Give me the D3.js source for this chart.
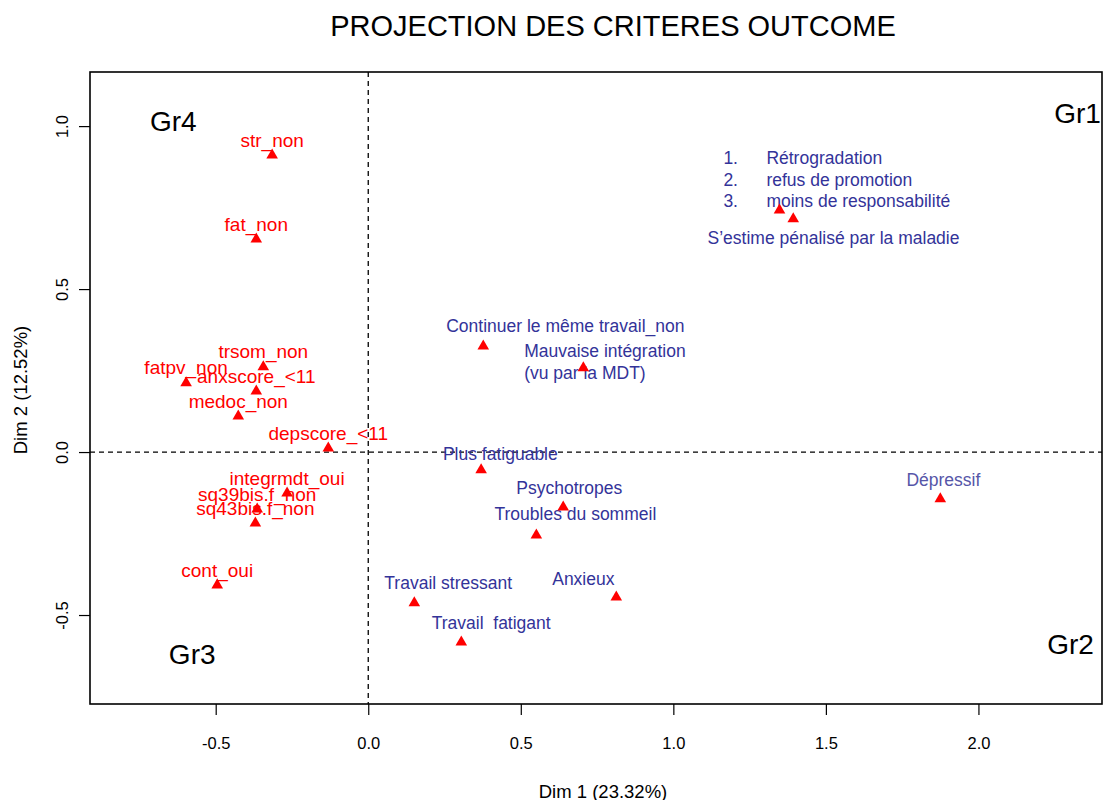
<!DOCTYPE html>
<html><head><meta charset="utf-8">
<script src="https://cdn.jsdelivr.net/npm/d3@7"></script>
<style>body{margin:0;background:#fff}text{font-family:"Liberation Sans",Arial,Helvetica,sans-serif;white-space:pre}</style>
</head><body><svg id="c" width="1104" height="800"></svg>
<script>
const title = "PROJECTION DES CRITERES OUTCOME";
const xTitle = "Dim 1 (23.32%)";
const yTitle = "Dim 2 (12.52%)";
const xTicks = [-0.5, 0.0, 0.5, 1.0, 1.5, 2.0];
const yTicks = [-0.5, 0.0, 0.5, 1.0];

// red (modalities "non"/"oui")
const redLabels = ["str_non","fat_non","trsom_non","fatpv_non","anxscore_<11","medoc_non","depscore_<11","integrmdt_oui","sq39bis.f_non","sq43bis.f_non","cont_oui"];
const redX = [-0.315,-0.367,-0.344,-0.597,-0.367,-0.426,-0.131,-0.266,-0.364,-0.370,-0.495];
const redY = [0.914,0.656,0.264,0.215,0.190,0.113,0.015,-0.123,-0.172,-0.215,-0.405];

// blue points
const blueX = [1.348,1.393,0.377,0.705,0.370,0.639,0.551,0.813,0.151,0.305,1.875];
const blueY = [0.745,0.718,0.328,0.261,-0.052,-0.166,-0.252,-0.442,-0.460,-0.580,-0.141];

// blue annotation texts with their anchors (data coordinates)
const blueTexts = ["Continuer le même travail_non","Plus fatiguable","Psychotropes","Troubles du sommeil","Anxieux","Travail stressant","Travail  fatigant","S’estime pénalisé par la maladie"];
const blueTextX = [0.646,0.433,0.659,0.679,0.705,0.262,0.403,1.525];
const blueTextY = [0.387,-0.006,-0.110,-0.190,-0.390,-0.402,-0.525,0.656];
const mauvaiseLines = ["Mauvaise intégration","(vu par la MDT)"];
const mauvaiseX = 0.511;
const mauvaiseY = [0.310,0.242];
const listNums = ["1.","2.","3."];
const listItems = ["Rétrogradation","refus de promotion","moins de responsabilité"];
const listNumX = 1.164, listItemX = 1.305;
const listY = [0.902,0.834,0.770];
const depText = "Dépressif", depTextX = 1.885, depTextY = -0.086;

const groups = ["Gr1","Gr2","Gr3","Gr4"];
const groupX = [2.325,2.302,-0.577,-0.639];
const groupY = [1.040,-0.589,-0.620,1.015];

const svg = d3.select("#c");
const L=90, R=1102, T=72, B=704;
const x = d3.scaleLinear().domain([-0.912, 2.405]).range([L, R]);
const y = d3.scaleLinear().domain([-0.773, 1.166]).range([B, T]);
const RED="#ff0000", BLUE="#333399";
const fmt = d => d3.format(".1f")(d).replace("−","-");

svg.append("text").attr("x",613).attr("y",26).attr("text-anchor","middle").attr("dominant-baseline","central")
  .attr("font-size",29).text(title);

// dashed axes
svg.append("line").attr("x1",x(0)).attr("x2",x(0)).attr("y1",T).attr("y2",B).attr("stroke","#000").attr("stroke-width",1.3).attr("stroke-dasharray","5,4");
svg.append("line").attr("x1",L).attr("x2",R).attr("y1",y(0)).attr("y2",y(0)).attr("stroke","#000").attr("stroke-width",1.3).attr("stroke-dasharray","5,4");

// axes
const gx = svg.append("g").attr("transform",`translate(0,${B})`)
  .call(d3.axisBottom(x).tickValues(xTicks).tickFormat(fmt).tickSize(11).tickPadding(22));
const gy = svg.append("g").attr("transform",`translate(${L},0)`)
  .call(d3.axisLeft(y).tickValues(yTicks).tickFormat(fmt).tickSize(11).tickPadding(0));
[gx,gy].forEach(g=>{g.select(".domain").remove();g.selectAll("line").attr("stroke","#000").attr("stroke-width",1.2);
  g.selectAll("text").attr("font-size",16.5).attr("fill","#000").attr("font-family","Liberation Sans, Arial, sans-serif");});
gy.selectAll("text").attr("x",null).attr("dy",null).attr("text-anchor","middle").attr("dominant-baseline","central")
  .attr("transform",d=>`translate(-28,${0}) rotate(-90)`);

svg.append("rect").attr("x",L).attr("y",T).attr("width",R-L).attr("height",B-T).attr("fill","none").attr("stroke","#000").attr("stroke-width",1.6);

svg.append("text").attr("x",603).attr("y",791).attr("text-anchor","middle").attr("dominant-baseline","central").attr("font-size",18.5).text(xTitle);
svg.append("text").attr("transform","translate(20,390) rotate(-90)").attr("text-anchor","middle").attr("dominant-baseline","central").attr("font-size",18.5).text(yTitle);

const tri = d3.symbol().type(d3.symbolTriangle).size(58);
// red points
redLabels.forEach((lab,i)=>{
  svg.append("path").attr("d",tri).attr("transform",`translate(${x(redX[i])},${y(redY[i])+1})`).attr("fill",RED);
});
redLabels.forEach((lab,i)=>{
  svg.append("text").attr("x",x(redX[i])).attr("y",y(redY[i])-14).attr("text-anchor","middle").attr("dominant-baseline","central")
    .attr("font-size",19).attr("fill",RED).text(lab);
});
// blue annotations
blueTexts.forEach((t,i)=>{
  svg.append("text").attr("x",x(blueTextX[i])).attr("y",y(blueTextY[i])).attr("text-anchor","middle").attr("dominant-baseline","central")
    .attr("font-size",17.5).attr("fill",BLUE).text(t);
});
mauvaiseLines.forEach((t,i)=>{
  svg.append("text").attr("x",x(mauvaiseX)).attr("y",y(mauvaiseY[i])).attr("dominant-baseline","central")
    .attr("font-size",17.5).attr("fill",BLUE).text(t);
});
listNums.forEach((t,i)=>{
  svg.append("text").attr("x",x(listNumX)).attr("y",y(listY[i])).attr("dominant-baseline","central").attr("font-size",17.5).attr("fill",BLUE).text(t);
  svg.append("text").attr("x",x(listItemX)).attr("y",y(listY[i])).attr("dominant-baseline","central").attr("font-size",17.5).attr("fill",BLUE).text(listItems[i]);
});
svg.append("text").attr("x",x(depTextX)).attr("y",y(depTextY)).attr("text-anchor","middle").attr("dominant-baseline","central")
  .attr("font-size",17.5).attr("fill","#5656a8").text(depText);
// blue points (red triangles)
blueX.forEach((v,i)=>{
  svg.append("path").attr("d",tri).attr("transform",`translate(${x(v)},${y(blueY[i])+1})`).attr("fill",RED);
});
// group labels
groups.forEach((g,i)=>{
  svg.append("text").attr("x",x(groupX[i])).attr("y",y(groupY[i])).attr("text-anchor","middle").attr("dominant-baseline","central")
    .attr("font-size",28).attr("fill","#000").text(g);
});
</script></body></html>
